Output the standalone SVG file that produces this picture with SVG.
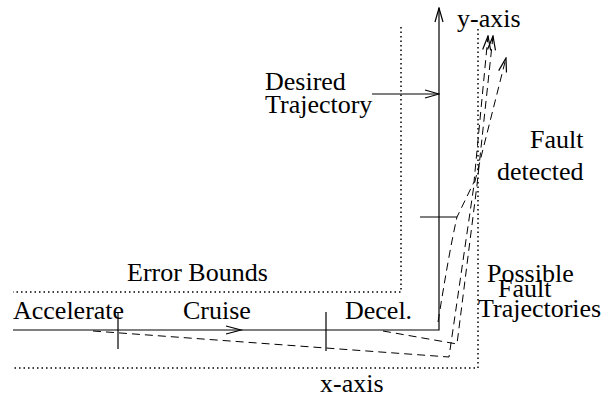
<svg xmlns="http://www.w3.org/2000/svg" width="608" height="398" viewBox="0 0 608 398">
<style>
text{font-family:"Liberation Serif","Times New Roman",serif;font-size:26px;fill:#000}
.solid{fill:none;stroke:#000;stroke-width:1.2}
.dot{fill:none;stroke:#000;stroke-width:1.5;stroke-dasharray:1.5 3}
.dash{fill:none;stroke:#000;stroke-width:1;stroke-dasharray:8 5}
</style>
<defs>
<marker id="arr" viewBox="0 0 16 10" refX="15" refY="5" markerWidth="16" markerHeight="10" markerUnits="userSpaceOnUse" orient="auto">
<path d="M1,1 L15,5 L1,9" fill="none" stroke="#000" stroke-width="1.2"/>
</marker>
</defs>
<g id="bounds">
<polyline class="dot" points="401,27 401,292 13,292"/>
<polyline class="dot" points="478,29 478,368 13,368"/>
</g>
<g id="connectors">
<path class="solid" d="M13,330 L439,330 L439,8" marker-end="url(#arr)"/>
<path class="solid" d="M372,94 L439,94" marker-end="url(#arr)"/>
<path class="solid" d="M226,326 L241,330 L226,334"/>
<path class="solid" d="M118,312 L118,349"/>
<path class="solid" d="M326,312 L326,351"/>
<path class="solid" d="M420,217 L457,217"/>
<path class="dash" d="M93,331 L449,357 L474,185 L506,58" marker-end="url(#arr)"/>
<path class="dash" d="M383,331 L457,344 L477,185 L493,36" marker-end="url(#arr)"/>
<path class="dash" d="M438,322 C444,285 450,248 457,217 L474,182 L488,36" marker-end="url(#arr)"/>
</g>
<g id="labels">
<text x="457" y="27">y-axis</text>
<text x="265" y="90">Desired</text>
<text x="265" y="113">Trajectory</text>
<text x="530" y="148">Fault</text>
<text x="497" y="180">detected</text>
<text x="127" y="281">Error Bounds</text>
<text x="487" y="282">Possible</text>
<text x="498" y="297">Fault</text>
<text x="478" y="317">Trajectories</text>
<text x="13" y="319">Accelerate</text>
<text x="183" y="319">Cruise</text>
<text x="345" y="319">Decel.</text>
<text x="320" y="392">x-axis</text>
</g>
</svg>
